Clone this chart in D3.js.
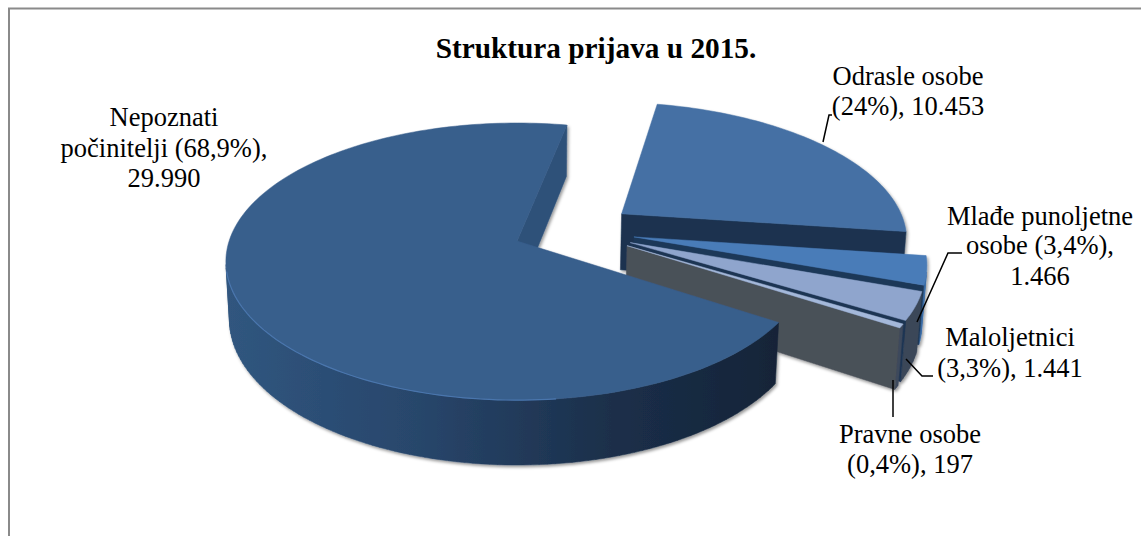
<!DOCTYPE html>
<html lang="en">

<head>
    <meta charset="utf-8">
    <script src="https://unpkg.com/d3@7/dist/d3.min.js"></script>
    <style>
        html, body { margin: 0; padding: 0; background: #fff; }
        svg { display: block; }
        text { font-family: "Liberation Serif", serif; fill: #000; }
    </style>
</head>

<body>
    <div id="chart"></div>

    <script>
        const categories = ["Nepoznati počinitelji", "Odrasle osobe", "Mlađe punoljetne osobe", "Maloljetnici", "Pravne osobe"];
        const values = [29990, 10453, 1466, 1441, 197];
        const titleText = "Struktura prijava u 2015.";
        const labelLines = [
            ["Nepoznati", "počinitelji (68,9%),", "29.990"],
            ["Odrasle osobe", "(24%), 10.453"],
            ["Mlađe punoljetne", "osobe (3,4%),", "1.466"],
            ["Maloljetnici", "(3,3%), 1.441"],
            ["Pravne osobe", "(0,4%), 197"]
        ];

        const width = 1141, height = 536;

        // colours per slice
        const topColors = ["#385e8c", "#4570a4", "#4a7cb8", "#8fa5cd", "#a4b8da"];
        const cutColors = ["#2e5179", "#1b3250", "#1c3858", "#1f3553", "#4a5159"];
        const wallColors = ["url(#mainWall)", "#1b3250", "#3a6ca6", "#3a4658", "#3d495c"];

        // label placement
        const labelX = [164, 908, 1040, 1010, 910];
        const labelY = [[126, 157, 187], [85, 115], [225, 254, 285], [346, 377], [443, 473]];
        const leaders = [
            null,
            [[823, 142], [829, 115], [832, 115]],
            [[917, 322], [948, 253], [962, 253]],
            [[906, 359], [922, 376], [933, 376]],
            [[893, 380], [893, 417]]
        ];

        // perspective camera, fitted by eye on the picture
        const originX = 517, originY = 241;
        const radiusX = 288, radiusY = 135.5, depth = 58;
        const persp = 0.148, perspZ = 0.012;
        const pieCentre = [0.199, 0.082];
        const explode = 0.215;

        const project = (u, v, z) => {
            const w = 1 + persp * v + perspZ * z;
            return [originX + radiusX * u / w, originY + (-radiusY * v + depth * z) / w];
        };

        const svg = d3.select("#chart").append("svg")
            .attr("width", width)
            .attr("height", height);

        const defs = svg.append("defs");
        const grad = defs.append("linearGradient")
            .attr("id", "mainWall")
            .attr("gradientUnits", "userSpaceOnUse")
            .attr("x1", 226).attr("x2", 776).attr("y1", 0).attr("y2", 0);
        grad.append("stop").attr("offset", "0").attr("stop-color", "#30567f");
        grad.append("stop").attr("offset", "0.35").attr("stop-color", "#28466b");
        grad.append("stop").attr("offset", "0.7").attr("stop-color", "#1b2f4a");
        grad.append("stop").attr("offset", "1").attr("stop-color", "#152438");

        const shadow = defs.append("filter").attr("id", "shadow")
            .attr("x", "-5%").attr("y", "-5%").attr("width", "110%").attr("height", "115%");
        shadow.append("feDropShadow")
            .attr("dx", 1.5).attr("dy", 2).attr("stdDeviation", 1.6)
            .attr("flood-color", "#000").attr("flood-opacity", 0.4);

        // frame, only top and left are drawn in the picture
        svg.append("path")
            .attr("d", d3.line()([[9, height], [9, 8.5], [width, 8.5]]))
            .attr("fill", "none")
            .attr("stroke", "#8a8a8a")
            .attr("stroke-width", 2);

        const pie = d3.pie().sort(null)
            .startAngle(123.5 * Math.PI / 180)
            .endAngle(483.5 * Math.PI / 180);
        const slices = pie(values);
        const line = d3.line();

        const sliceShape = (d) => {
            const mid = (d.startAngle + d.endAngle) / 2;
            const cu = pieCentre[0] + explode * Math.sin(mid);
            const cv = pieCentre[1] + explode * Math.cos(mid);
            const steps = Math.max(2, Math.ceil((d.endAngle - d.startAngle) * 40));
            const angles = d3.range(steps + 1).map(i => d.startAngle + (d.endAngle - d.startAngle) * i / steps);
            const rim = z => angles.map(a => project(cu + Math.sin(a), cv + Math.cos(a), z));
            return { apexTop: project(cu, cv, 0), apexBottom: project(cu, cv, 1), rimTop: rim(0), rimBottom: rim(1) };
        };

        // back slices first, the big slice sits in front of all of them
        const drawOrder = [1, 2, 3, 4, 0];
        const pieGroup = svg.append("g").attr("filter", "url(#shadow)");

        drawOrder.forEach(i => {
            const s = sliceShape(slices[i]);
            const g = pieGroup.append("g").attr("class", "slice").attr("data-name", categories[i]);
            const n = s.rimTop.length - 1;
            const paint = (d, fill) => g.append("path")
                .attr("d", d)
                .attr("fill", fill)
                .attr("stroke", fill)
                .attr("stroke-width", 0.5);

            // outer wall, only the strips that face the camera, all in one path so no seams show
            const strips = d3.range(n)
                .map(k => [s.rimTop[k], s.rimTop[k + 1], s.rimBottom[k + 1], s.rimBottom[k]])
                .filter(q => d3.polygonArea(q) > 0);
            if (strips.length) paint(strips.map(q => line(q) + "Z").join(""), wallColors[i]);

            // cut faces, same test
            const startCut = [s.apexTop, s.rimTop[0], s.rimBottom[0], s.apexBottom];
            const endCut = [s.apexTop, s.rimTop[n], s.rimBottom[n], s.apexBottom];
            if (d3.polygonArea(startCut) > 0) paint(line(startCut) + "Z", cutColors[i]);
            if (d3.polygonArea(endCut) < 0) paint(line(endCut) + "Z", cutColors[i]);

            // top face
            paint(line([s.apexTop].concat(s.rimTop)) + "Z", topColors[i]);
        });

        // light bevel along the front edge of the big slice
        const mainShape = sliceShape(slices[0]);
        pieGroup.append("path")
            .attr("d", line(mainShape.rimTop.filter(p => p[1] > 270 && p[0] < 560)))
            .attr("fill", "none")
            .attr("stroke", "#4a76ad")
            .attr("stroke-width", 1.2);

        // leader lines
        svg.selectAll("path.leader")
            .data(leaders.filter(d => d))
            .join("path")
            .attr("class", "leader")
            .attr("d", d => line(d))
            .attr("fill", "none")
            .attr("stroke", "#000")
            .attr("stroke-width", 1.5);

        svg.append("text")
            .attr("x", 596)
            .attr("y", 58)
            .attr("text-anchor", "middle")
            .attr("font-size", 29.3)
            .attr("font-weight", "bold")
            .text(titleText);

        labelLines.forEach((lines, i) => {
            svg.append("g").selectAll("text")
                .data(lines)
                .join("text")
                .attr("x", labelX[i])
                .attr("y", (d, j) => labelY[i][j])
                .attr("text-anchor", "middle")
                .attr("font-size", 26.5)
                .text(d => d);
        });
    </script>
</body>

</html>
